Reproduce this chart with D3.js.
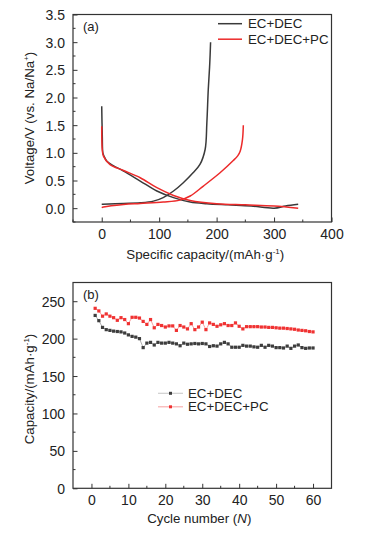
<!DOCTYPE html>
<html><head><meta charset="utf-8">
<script src="https://cdn.jsdelivr.net/npm/d3@7"></script>
<style>
html,body{margin:0;padding:0;background:#fff;}
svg{display:block;font-family:"Liberation Sans",Arial,sans-serif;}
</style></head>
<body>
<svg id="chart" width="371" height="535"></svg>
<script>
// ---------- Data: panel (a) voltage profiles ----------
const ecDecDischargeCap = [0, 1, 2, 4, 9, 20, 38, 67, 96, 125, 154, 183, 220, 260, 300, 320, 342];
const ecDecDischargeV   = [1.84, 1.3, 1.0, 0.94, 0.85, 0.77, 0.67, 0.49, 0.31, 0.19, 0.11, 0.08, 0.06, 0.04, 0.0, 0.04, 0.07];
const ecDecChargeCap = [0, 2, 38, 67, 90, 107, 125, 142, 159, 171, 180, 183, 185.5, 188, 189.5];
const ecDecChargeV   = [0.07, 0.07, 0.085, 0.097, 0.127, 0.19, 0.31, 0.46, 0.64, 0.79, 1.06, 1.54, 2.15, 2.6, 3.0];
const pcDischargeCap = [0, 1, 3, 14, 38, 67, 96, 125, 154, 200, 250, 300, 342];
const pcDischargeV   = [1.48, 1.05, 0.94, 0.79, 0.68, 0.55, 0.37, 0.23, 0.14, 0.08, 0.06, 0.04, 0.0];
const pcChargeCap = [0, 3, 38, 67, 107, 136, 154, 177, 206, 229, 237, 241, 245, 246.5];
const pcChargeV   = [0.01, 0.02, 0.067, 0.085, 0.11, 0.145, 0.22, 0.4, 0.64, 0.86, 0.95, 1.03, 1.24, 1.5];
const seriesNames = ["EC+DEC", "EC+DEC+PC"];

// ---------- Data: panel (b) cycling ----------
const cycles = d3.range(1, 61);
const capEcDec = [231, 224, 215, 212, 211, 210, 209.5, 209, 207.5, 205, 203, 202, 200, 188, 194, 195, 191.5, 195, 194, 194,
                  195, 194, 193, 190.5, 194, 192.5, 193, 193.5, 193, 193.5, 193, 189.5, 190.5, 190, 193, 195, 193, 188.5, 188.5, 188.5,
                  191, 190, 190, 189, 188.5, 191, 188.5, 191, 190, 188, 188, 187.5, 190, 187, 190, 191.5, 188, 187, 187.5, 187.5];
const capEcDecPc = [240.5, 237, 230, 233, 230, 228, 224.5, 228, 225.5, 220, 228.5, 228.5, 227.5, 223, 219, 225.5, 214.5, 219, 217.5, 215.5,
                    217, 217, 211, 217.5, 215.5, 213, 220, 212, 215.5, 222, 212, 221, 219, 216.5, 218.5, 220, 217.5, 217.5, 221, 216.5,
                    213, 216, 216, 216, 216, 215.5, 215.5, 215, 215, 214.5, 214, 214, 213.5, 213, 212.5, 211.5, 211, 210.5, 209.5, 209];

// tick values
const aXTicks = [0, 100, 200, 300, 400];
const aYTicks = [0.0, 0.5, 1.0, 1.5, 2.0, 2.5, 3.0, 3.5];
const bXTicks = [0, 10, 20, 30, 40, 50, 60];
const bYTicks = [0, 50, 100, 150, 200, 250];

const BLACK = "#3a3a3a", RED = "#ec2a2a";
const AXIS = "#333";
const svg = d3.select("#chart");

function frame(g, x, y, xTicks, yTicks, xMinor, yMinor, yFmt) {
  const [x0, x1] = x.range(), [y0, y1] = y.range();
  // minor ticks
  g.append("g").selectAll("line").data(xMinor).join("line")
    .attr("x1", d => x(d)).attr("x2", d => x(d)).attr("y1", y0).attr("y2", y0 - 2.5)
    .attr("stroke", AXIS).attr("stroke-width", 1);
  g.append("g").selectAll("line").data(yMinor).join("line")
    .attr("y1", d => y(d)).attr("y2", d => y(d)).attr("x1", x0).attr("x2", x0 + 2.5)
    .attr("stroke", AXIS).attr("stroke-width", 1);
  const xa = g.append("g").attr("transform", `translate(0,${y0})`)
    .call(d3.axisBottom(x).tickValues(xTicks).tickSizeInner(-4.5).tickSizeOuter(0).tickPadding(7));
  const ya = g.append("g").attr("transform", `translate(${x0},0)`)
    .call(d3.axisLeft(y).tickValues(yTicks).tickFormat(yFmt).tickSizeInner(-4.5).tickSizeOuter(0).tickPadding(8));
  [xa, ya].forEach(a => {
    a.select(".domain").remove();
    a.selectAll(".tick line").attr("stroke", AXIS);
    a.selectAll(".tick text").attr("font-size", 14).attr("fill", "#222")
      .attr("font-family", "'Liberation Sans', Arial, sans-serif");
  });
  ya.selectAll(".tick text").attr("dy", "0.36em");
  g.append("rect").attr("x", x0).attr("y", y1).attr("width", x1 - x0).attr("height", y0 - y1)
    .attr("fill", "none").attr("stroke", AXIS).attr("stroke-width", 1.2);
}

// ================= Panel (a) =================
const xa = d3.scaleLinear().domain([-50, 400]).range([73, 331.5]);
const ya = d3.scaleLinear().domain([-0.25, 3.5]).range([222, 14.5]);
const ga = svg.append("g");
frame(ga, xa, ya, aXTicks, aYTicks, [-50, 50, 150, 250, 350], [-0.25, 0.25, 0.75, 1.25, 1.75, 2.25, 2.75, 3.25], d3.format(".1f"));

const lineA = d3.line().x(d => xa(d[0])).y(d => ya(d[1])).curve(d3.curveMonotoneX);
const lineAy = d3.line().x(d => xa(d[0])).y(d => ya(d[1])).curve(d3.curveCatmullRom.alpha(0.5));
const curves = [
  {c: ecDecDischargeCap, v: ecDecDischargeV, col: BLACK},
  {c: ecDecChargeCap, v: ecDecChargeV, col: BLACK},
  {c: pcDischargeCap, v: pcDischargeV, col: RED},
  {c: pcChargeCap, v: pcChargeV, col: RED}
];
curves.forEach(s => {
  ga.append("path").datum(s.c.map((c, i) => [c, s.v[i]]))
    .attr("d", lineAy).attr("fill", "none").attr("stroke", s.col).attr("stroke-width", 1.5)
    .attr("stroke-linejoin", "round");
});
ga.append("text").attr("x", 83).attr("y", 31).attr("font-size", 13).attr("fill", "#222").text("(a)");
// legend a
[BLACK, RED].forEach((col, i) => {
  const yy = 23.7 + i * 15.5;
  ga.append("line").attr("x1", 218).attr("x2", 242).attr("y1", yy).attr("y2", yy)
    .attr("stroke", col).attr("stroke-width", 1.5);
  ga.append("text").attr("x", 248).attr("y", yy + 4.6).attr("font-size", 13.3).attr("fill", "#222").text(seriesNames[i]);
});
// axis titles a
ga.append("text").attr("x", (73 + 331.5) / 2 + 3).attr("y", 259).attr("text-anchor", "middle")
  .attr("font-size", 13.3).attr("fill", "#222")
  .html('Specific capacity/(mAh·g<tspan dy="-5" font-size="8">-1</tspan><tspan dy="5">)</tspan>');
ga.append("text").attr("transform", "translate(34,118) rotate(-90)").attr("text-anchor", "middle")
  .attr("font-size", 13.3).attr("fill", "#222")
  .html('Voltage/V (vs. Na/Na<tspan dy="-5" font-size="8">+</tspan><tspan dy="5">)</tspan>');

// ================= Panel (b) =================
const xb = d3.scaleLinear().domain([-5, 65]).range([73, 331.5]);
const yb = d3.scaleLinear().domain([0, 275]).range([488.3, 282.5]);
const gb = svg.append("g");
frame(gb, xb, yb, bXTicks, bYTicks, [-5, 5, 15, 25, 35, 45, 55, 65].filter(v => v > -5 && v < 65), [25, 75, 125, 175, 225], d3.format("d"));

const lineB = d3.line().x(d => xb(d[0])).y(d => yb(d[1]));
const bSeries = [
  {v: capEcDec, mk: "#3d3d3d", ln: "#9a9a9a"},
  {v: capEcDecPc, mk: "#f03232", ln: "#f58a8a"}
];
bSeries.forEach(s => {
  const pts = cycles.map((c, i) => [c, s.v[i]]);
  gb.append("path").datum(pts).attr("d", lineB).attr("fill", "none")
    .attr("stroke", s.ln).attr("stroke-width", 0.8);
  gb.append("g").selectAll("rect").data(pts).join("rect")
    .attr("x", d => xb(d[0]) - 1.6).attr("y", d => yb(d[1]) - 1.6)
    .attr("width", 3.2).attr("height", 3.2).attr("fill", s.mk);
});
gb.append("text").attr("x", 83).attr("y", 299).attr("font-size", 13).attr("fill", "#222").text("(b)");
// legend b
[["#cfcfcf", "#3d3d3d"], ["#f8b0b0", "#f03232"]].forEach((cc, i) => {
  const yy = 393.3 + i * 13.5;
  gb.append("line").attr("x1", 158).attr("x2", 183).attr("y1", yy).attr("y2", yy)
    .attr("stroke", cc[0]).attr("stroke-width", 1.2);
  gb.append("rect").attr("x", 170.5 - 1.5).attr("y", yy - 1.5).attr("width", 3).attr("height", 3).attr("fill", cc[1]);
  gb.append("text").attr("x", 188).attr("y", yy + 4.6).attr("font-size", 13.3).attr("fill", "#222").text(seriesNames[i]);
});
gb.append("text").attr("x", (73 + 331.5) / 2 - 3).attr("y", 523).attr("text-anchor", "middle")
  .attr("font-size", 13.3).attr("fill", "#222")
  .html('Cycle number (<tspan font-style="italic">N</tspan>)');
gb.append("text").attr("transform", "translate(34,389) rotate(-90)").attr("text-anchor", "middle")
  .attr("font-size", 13.3).attr("fill", "#222")
  .html('Capacity/(mAh·g<tspan dy="-5" font-size="8">-1</tspan><tspan dy="5">)</tspan>');
</script>
</body></html>
